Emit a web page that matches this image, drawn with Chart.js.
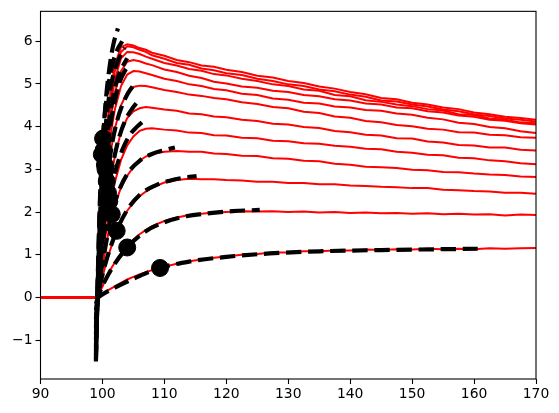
<!DOCTYPE html>
<html>
<head>
<meta charset="utf-8">
<script src="https://cdn.jsdelivr.net/npm/chart.js@4"></script>
<style>
  body { margin: 0; background: #fff; }
  canvas { display: block; }
</style>
</head>
<body>
<canvas id="chart" width="559" height="413"></canvas>
<script>
// shared time axis of the red traces
const traceX = [90, 98.9, 99.1, 99.3, 99.6, 100, 100.5, 101, 101.5, 102, 103, 104, 105, 106, 107, 108,
  110, 112, 114, 116, 118, 120, 122.5, 125, 127.5, 130, 132.5, 135, 137.5, 140, 142.5, 145,
  147.5, 150, 152.5, 155, 157.5, 160, 162.5, 165, 167.5, 170];

// red traces, lowest to highest
const traceY = [
  [0, 0, -0.06, 0.02, 0.05, 0.09, 0.14, 0.18, 0.22, 0.26, 0.34, 0.42, 0.48, 0.54, 0.59, 0.64, 0.72, 0.79, 0.85, 0.89, 0.93, 0.96, 1.0, 1.02, 1.05, 1.05, 1.08, 1.08, 1.1, 1.1, 1.12, 1.11, 1.13, 1.12, 1.14, 1.13, 1.14, 1.13, 1.15, 1.14, 1.15, 1.16],
  [0, 0, -0.06, 0.05, 0.15, 0.25, 0.42, 0.56, 0.70, 0.82, 1.03, 1.20, 1.35, 1.48, 1.58, 1.67, 1.79, 1.87, 1.93, 1.96, 1.99, 2.0, 2.02, 2.01, 2.02, 2.0, 2.01, 1.99, 2.0, 1.98, 1.99, 1.97, 1.98, 1.96, 1.97, 1.95, 1.96, 1.94, 1.95, 1.92, 1.94, 1.93],
  [0, 0, -0.06, 0.08, 0.25, 0.48, 0.75, 1.0, 1.22, 1.43, 1.78, 2.03, 2.22, 2.37, 2.48, 2.57, 2.69, 2.75, 2.78, 2.77, 2.77, 2.75, 2.74, 2.71, 2.71, 2.68, 2.68, 2.65, 2.65, 2.62, 2.61, 2.59, 2.58, 2.56, 2.56, 2.52, 2.51, 2.49, 2.48, 2.45, 2.45, 2.43],
  [0, 0, -0.06, 0.12, 0.38, 0.72, 1.12, 1.55, 1.93, 2.18, 2.57, 2.85, 3.05, 3.2, 3.3, 3.36, 3.41, 3.43, 3.41, 3.41, 3.37, 3.36, 3.32, 3.31, 3.26, 3.25, 3.2, 3.19, 3.13, 3.11, 3.06, 3.05, 3.03, 2.99, 2.98, 2.94, 2.93, 2.9, 2.88, 2.87, 2.83, 2.82],
  [0, 0, -0.06, 0.15, 0.5, 0.95, 1.45, 1.95, 2.3, 2.7, 3.22, 3.56, 3.77, 3.9, 3.95, 3.96, 3.93, 3.91, 3.86, 3.85, 3.8, 3.79, 3.74, 3.73, 3.67, 3.66, 3.61, 3.6, 3.55, 3.53, 3.48, 3.47, 3.41, 3.39, 3.34, 3.33, 3.27, 3.26, 3.21, 3.19, 3.14, 3.12],
  [0, 0, -0.06, 0.2, 0.65, 1.2, 1.85, 2.4, 2.9, 3.3, 3.88, 4.2, 4.36, 4.43, 4.46, 4.44, 4.4, 4.37, 4.31, 4.29, 4.24, 4.22, 4.16, 4.13, 4.07, 4.05, 3.99, 3.97, 3.9, 3.87, 3.81, 3.79, 3.73, 3.72, 3.65, 3.63, 3.57, 3.56, 3.51, 3.51, 3.46, 3.44],
  [0, 0, -0.06, 0.25, 0.8, 1.5, 2.3, 3.0, 3.55, 3.95, 4.5, 4.8, 4.93, 4.96, 4.95, 4.92, 4.86, 4.81, 4.75, 4.72, 4.67, 4.64, 4.57, 4.53, 4.46, 4.43, 4.35, 4.32, 4.24, 4.21, 4.13, 4.1, 4.04, 4.01, 3.95, 3.93, 3.87, 3.86, 3.81, 3.8, 3.75, 3.74],
  [0, 0, -0.06, 0.3, 0.95, 1.75, 2.65, 3.4, 3.98, 4.4, 4.95, 5.22, 5.3, 5.29, 5.25, 5.21, 5.12, 5.07, 4.99, 4.95, 4.88, 4.85, 4.77, 4.74, 4.66, 4.63, 4.56, 4.54, 4.47, 4.45, 4.39, 4.37, 4.31, 4.28, 4.21, 4.17, 4.09, 4.06, 3.99, 3.96, 3.89, 3.85],
  [0, 0, -0.06, 0.32, 1.05, 1.95, 2.95, 3.75, 4.35, 4.8, 5.3, 5.52, 5.56, 5.53, 5.48, 5.44, 5.34, 5.28, 5.19, 5.14, 5.05, 5.01, 4.94, 4.91, 4.84, 4.81, 4.74, 4.71, 4.64, 4.61, 4.54, 4.52, 4.45, 4.43, 4.36, 4.33, 4.26, 4.23, 4.16, 4.14, 4.08, 4.05],
  [0, 0, -0.06, 0.35, 1.15, 2.15, 3.2, 4.05, 4.65, 5.1, 5.6, 5.75, 5.74, 5.7, 5.64, 5.59, 5.49, 5.43, 5.35, 5.31, 5.23, 5.2, 5.12, 5.07, 4.99, 4.95, 4.87, 4.84, 4.74, 4.71, 4.62, 4.58, 4.52, 4.48, 4.41, 4.38, 4.29, 4.27, 4.19, 4.16, 4.1, 4.08],
  [0, 0, -0.06, 0.37, 1.2, 2.25, 3.35, 4.2, 4.85, 5.3, 5.75, 5.88, 5.86, 5.8, 5.75, 5.67, 5.59, 5.49, 5.45, 5.36, 5.32, 5.25, 5.21, 5.12, 5.07, 4.99, 4.95, 4.87, 4.83, 4.75, 4.7, 4.61, 4.59, 4.52, 4.47, 4.4, 4.36, 4.29, 4.25, 4.19, 4.16, 4.12],
  [0, 0, -0.06, 0.4, 1.25, 2.35, 3.5, 4.4, 5.0, 5.45, 5.86, 5.93, 5.9, 5.84, 5.8, 5.73, 5.66, 5.56, 5.51, 5.43, 5.4, 5.33, 5.28, 5.19, 5.15, 5.07, 5.02, 4.94, 4.89, 4.81, 4.76, 4.67, 4.64, 4.56, 4.52, 4.45, 4.41, 4.33, 4.29, 4.23, 4.2, 4.16]
];

// dashed fits, same order as the traces
const fitX = [
  [98.95, 99.3, 102, 105.5, 109.3, 114, 120, 127, 135, 145, 160.6],
  [98.95, 99.3, 101, 104, 107, 110, 113.5, 117, 121, 125.4],
  [98.95, 99.3, 100.5, 102.3, 104, 106, 108.5, 111, 113, 115.2],
  [98.95, 99.3, 100.2, 101.5, 102.8, 104.3, 106, 108, 110, 111.7],
  [98.95, 99.3, 100, 101.1, 102.1, 103.2, 104.4, 105.6, 106.7],
  [98.95, 99.3, 100, 100.9, 101.8, 102.7, 103.7, 104.8, 105.8],
  [98.95, 99.3, 99.9, 100.7, 101.5, 102.3, 103.2, 104.2, 105.2],
  [98.95, 99.3, 99.8, 100.5, 101.2, 102, 102.8, 103.6, 104.4],
  [98.95, 99.3, 99.8, 100.4, 101, 101.7, 102.5, 103.3, 104],
  [98.95, 99.3, 99.7, 100.2, 100.8, 101.5, 102.3, 103, 103.6],
  [98.95, 99.3, 99.6, 99.9, 100.4, 101, 101.7, 102.4, 103.2],
  [98.95, 99.3, 99.6, 100.1, 100.6, 101.2, 101.8, 102.5]
];
const fitY = [
  [-0.05, 0.0, 0.23, 0.47, 0.69, 0.84, 0.95, 1.03, 1.08, 1.11, 1.14],
  [-0.15, 0.02, 0.55, 1.17, 1.55, 1.76, 1.9, 1.97, 2.02, 2.05],
  [-0.3, 0.05, 0.8, 1.56, 2.05, 2.4, 2.62, 2.74, 2.8, 2.84],
  [-0.5, 0.12, 0.95, 1.95, 2.55, 2.95, 3.2, 3.36, 3.45, 3.51],
  [-0.7, 0.2, 1.2, 2.25, 2.95, 3.45, 3.8, 4.0, 4.14],
  [-0.85, 0.25, 1.4, 2.45, 3.2, 3.75, 4.15, 4.42, 4.6],
  [-1.0, 0.3, 1.6, 2.72, 3.55, 4.1, 4.5, 4.8, 5.0],
  [-1.15, 0.35, 1.8, 3.0, 3.95, 4.6, 5.05, 5.3, 5.46],
  [-1.25, 0.4, 2.0, 3.1, 4.0, 4.7, 5.15, 5.42, 5.6],
  [-1.35, 0.6, 2.2, 3.45, 4.4, 5.05, 5.45, 5.7, 5.85],
  [-1.45, 0.8, 2.3, 3.35, 4.3, 5.0, 5.5, 5.8, 6.0],
  [-1.5, 0.7, 2.2, 3.72, 4.7, 5.45, 5.95, 6.3]
];

// black markers on the fits
const dotX = [109.3, 104.0, 102.3, 101.5, 101.1, 100.9, 100.7, 100.5, 100.4, 100.2, 99.9, 100.1];
const dotY = [0.69, 1.17, 1.56, 1.95, 2.25, 2.45, 2.72, 3.0, 3.1, 3.45, 3.35, 3.72];

const xTicks = [90, 100, 110, 120, 130, 140, 150, 160, 170];
const yTicks = [-1, 0, 1, 2, 3, 4, 5, 6];

const datasets = [];

datasets.push({
  type: "scatter",
  data: dotX.map((x, i) => ({ x, y: dotY[i] })),
  backgroundColor: "#000",
  borderColor: "#000",
  pointRadius: 8.5,
  pointHoverRadius: 8.5,
  order: 0
});

fitX.forEach((xs, k) => {
  datasets.push({
    data: xs.map((x, i) => ({ x, y: fitY[k][i] })),
    borderColor: "#000",
    borderWidth: 4.2,
    borderDash: [15.4, 6.7],
    cubicInterpolationMode: "monotone",
    pointRadius: 0,
    fill: false,
    order: 1
  });
});

traceY.forEach(ys => {
  datasets.push({
    data: traceX.map((x, i) => ({ x, y: ys[i] })),
    borderColor: "#ff0000",
    borderWidth: 2,
    tension: 0,
    pointRadius: 0,
    fill: false,
    order: 2
  });
});

const frame = {
  id: "frame",
  afterDatasetsDraw(chart) {
    const a = chart.chartArea;
    const ctx = chart.ctx;
    ctx.save();
    ctx.strokeStyle = "#000";
    ctx.lineWidth = 1.1;
    ctx.strokeRect(a.left, a.top, a.right - a.left, a.bottom - a.top);
    ctx.restore();
  }
};

const font = { family: "DejaVu Sans", size: 13.9 };

new Chart(document.getElementById("chart"), {
  type: "line",
  data: { datasets },
  options: {
    responsive: false,
    animation: false,
    devicePixelRatio: 1,
    layout: { padding: { top: 10, right: 23, left: 0, bottom: 0 } },
    plugins: { legend: { display: false }, tooltip: { enabled: false } },
    scales: {
      x: {
        type: "linear",
        min: 90,
        max: 170,
        afterFit: s => { s.height = 34; },
        afterBuildTicks: s => { s.ticks = xTicks.map(v => ({ value: v })); },
        grid: { drawOnChartArea: false, drawTicks: true, tickLength: 5, color: "#000", tickWidth: 1.1 },
        border: { display: false },
        ticks: { color: "#000", font, padding: 2, maxRotation: 0 }
      },
      y: {
        type: "linear",
        min: -1.91,
        max: 6.70,
        afterFit: s => { s.width = 40.5; },
        afterBuildTicks: s => { s.ticks = yTicks.map(v => ({ value: v })); },
        grid: { drawOnChartArea: false, drawTicks: true, tickLength: 5, color: "#000", tickWidth: 1.1 },
        border: { display: false },
        ticks: {
          color: "#000",
          font,
          padding: 3,
          callback: v => String(v).replace("-", "\u2212")
        }
      }
    }
  },
  plugins: [frame]
});
</script>
</body>
</html>
